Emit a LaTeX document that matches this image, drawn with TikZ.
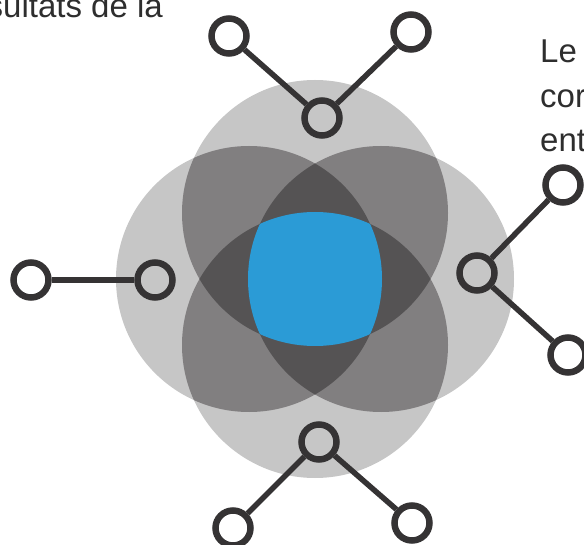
\documentclass[tikz,border=0pt]{standalone}
\usepackage{fontspec}
\setmainfont{Liberation Sans}
\definecolor{lightg}{HTML}{C6C6C6}
\definecolor{midg}{HTML}{817F80}
\definecolor{darkg}{HTML}{555354}
\definecolor{bluec}{HTML}{2B9BD6}
\definecolor{ringc}{HTML}{353334}
\definecolor{textc}{HTML}{2E2E2E}
\begin{document}
\begin{tikzpicture}[x=1pt,y=-1pt,
  ring/.style={circle,draw=ringc,line width=6.5pt,minimum size=35pt,inner sep=0pt},
  link/.style={draw=ringc,line width=5.5pt},
  lbl/.style={anchor=base west,inner sep=0pt,text=textc,font=\fontsize{33}{39}\selectfont}]
\clip (0,0) rectangle (584,545);
\def\CT{(315,213) circle (133pt)}
\def\CB{(315,345) circle (133pt)}
\def\CL{(249,279) circle (133pt)}
\def\CR{(381,279) circle (133pt)}
% single
\fill[lightg] \CT; \fill[lightg] \CB; \fill[lightg] \CL; \fill[lightg] \CR;
% pairs
\begin{scope}\clip \CT; \fill[midg] \CB; \fill[midg] \CL; \fill[midg] \CR; \end{scope}
\begin{scope}\clip \CB; \fill[midg] \CL; \fill[midg] \CR; \end{scope}
\begin{scope}\clip \CL; \fill[midg] \CR; \end{scope}
% triples
\begin{scope}\clip \CT; \clip \CB; \fill[darkg] \CL; \fill[darkg] \CR; \end{scope}
\begin{scope}\clip \CL; \clip \CR; \fill[darkg] \CT; \fill[darkg] \CB; \end{scope}
% quadruple
\begin{scope}\clip \CT; \clip \CB; \clip \CL; \fill[bluec] \CR; \end{scope}
% nodes
\node[ring] (T) at (322,118) {};
\node[ring] (TL) at (229,36) {};
\node[ring] (TR) at (411,32) {};
\node[ring] (L) at (155,280) {};
\node[ring] (LL) at (31,280) {};
\node[ring] (R) at (477,273) {};
\node[ring] (RT) at (563,185) {};
\node[ring] (RB) at (568,355) {};
\node[ring] (B) at (319,442) {};
\node[ring] (BL) at (233,528) {};
\node[ring] (BR) at (412,523) {};
\draw[link] (T) -- (TL);
\draw[link] (T) -- (TR);
\draw[link] (L) -- (LL);
\draw[link] (R) -- (RT);
\draw[link] (R) -- (RB);
\draw[link] (B) -- (BL);
\draw[link] (B) -- (BR);
% texts
\node[lbl] (txa) at (-13.5,18) {sultats de la};
\node[lbl] (txb) at (540,63) {Le};
\node[lbl] (txc) at (540,108) {cor};
\node[lbl] (txd) at (540,152) {ent};
\end{tikzpicture}
\end{document}
